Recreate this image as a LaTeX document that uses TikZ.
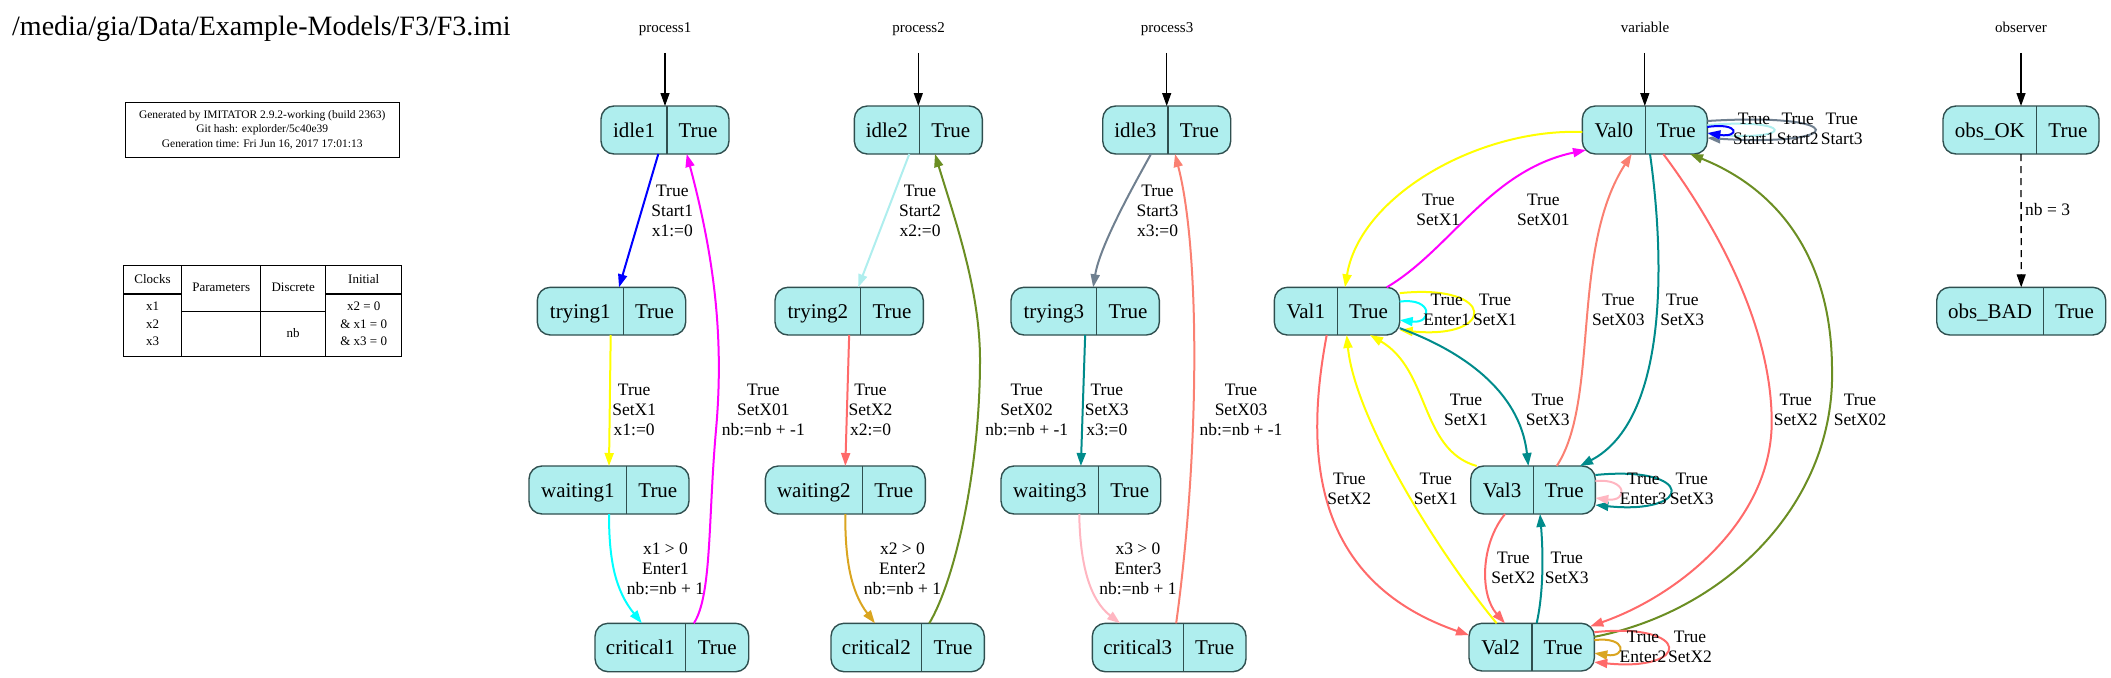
\documentclass[tikz,border=0pt]{standalone}
\usepackage{fontspec}
\setmainfont{Liberation Serif}
\usetikzlibrary{arrows.meta}
\definecolor{stfill}{HTML}{AFEEEE}
\definecolor{stroke}{HTML}{2F4F4F}
\definecolor{cblue}{HTML}{0000FF}
\definecolor{cyel}{HTML}{FFFF00}
\definecolor{ccyan}{HTML}{00FFFF}
\definecolor{cmag}{HTML}{FF00FF}
\definecolor{cpt}{HTML}{AFEEEE}
\definecolor{cired}{HTML}{FF6A6A}
\definecolor{cgold}{HTML}{DAA520}
\definecolor{colive}{HTML}{6B8E23}
\definecolor{cslate}{HTML}{708090}
\definecolor{cteal}{HTML}{008B8B}
\definecolor{cpink}{HTML}{FFB6C1}
\definecolor{csalmon}{HTML}{FA8072}
\tikzset{
  stbox/.style={draw=stroke, fill=stfill, rounded corners=13pt, line width=1.4pt, inner sep=0pt, outer sep=0pt},
  stline/.style={draw=stroke, line width=1.4pt},
  sttext/.style={font=\fontsize{21}{24}\selectfont, inner sep=0pt},
  elabel/.style={font=\fontsize{17.5}{20}\selectfont, align=center, inner sep=0pt},
  hdr/.style={font=\fontsize{15}{18}\selectfont, inner sep=0pt},
  tr/.style={line width=2pt, -{Triangle[length=13pt,width=9pt]}},
  initarr/.style={line width=1.3pt, -{Triangle[length=13pt,width=9pt]}},
  tbl/.style={draw=black, line width=1.2pt},
  tbltext/.style={font=\fontsize{13}{17.5}\selectfont, align=center, inner sep=0pt}
}
\newcommand\mkstate[7]{%
  \pgfmathsetmacro\stw{#3-#2}%
  \pgfmathsetmacro\sth{#5-#4}%
  \node[stbox, minimum width=\stw pt, minimum height=\sth pt] (#1) at ({(#2+#3)/2},{(#4+#5)/2}) {};
  \draw[stline] (#6,#4) -- (#6,#5);
  \node[sttext, anchor=base] (#1-n) at ({(#2+#6)/2},{(#4+#5)/2+7.3}) {#7};
  \node[sttext, anchor=base] (#1-t) at ({(#6+#3)/2},{(#4+#5)/2+7.3}) {True};
}
\begin{document}
\begin{tikzpicture}[x=1pt,y=-1pt]
\useasboundingbox (0,0) rectangle (2111,677);

% title
\node[font=\fontsize{28}{32}\selectfont, anchor=base west, inner sep=0pt] (title) at (12,36) {/media/gia/Data/Example-Models/F3/F3.imi};

% info box
\node[draw=black, line width=1.2pt, minimum width=274pt, minimum height=55pt, inner sep=0pt, align=center, font=\fontsize{11.5}{14.5}\selectfont] (info) at (262.2,129.8) {Generated by IMITATOR 2.9.2-working (build 2363)\\Git hash: explorder/5c40e39\\Generation time: Fri Jun 16, 2017 17:01:13};

% table
\node[tbl, minimum width=278.4pt, minimum height=91pt, inner sep=0pt] (tbox) at (262.5,311.2) {};
\draw[tbl] (181.7,265.7) -- (181.7,356.7);
\draw[tbl] (260.7,265.7) -- (260.7,356.7);
\draw[tbl] (325.7,265.7) -- (325.7,356.7);
\draw[tbl] (123.3,294) -- (181.7,294);
\draw[tbl] (181.7,311.7) -- (325.7,311.7);
\draw[tbl] (325.7,294) -- (401.7,294);
\node[tbltext] (tclocks) at (152.5,279) {Clocks};
\node[tbltext] (tparams) at (221.2,287.7) {Parameters};
\node[tbltext] (tdisc) at (293.2,287.7) {Discrete};
\node[tbltext] (tinit) at (363.7,279) {Initial};
\node[tbltext] (tclockv) at (152.5,324.2) {x1\\x2\\x3};
\node[tbltext] (tdiscv) at (293.2,333.3) {nb};
\node[tbltext] (tinitv) at (363.7,324.2) {x2 = 0\\\& x1 = 0\\\& x3 = 0};

% states
\mkstate{idle1}{601}{729}{106}{154}{667}{idle1}
\mkstate{trying1}{537.3}{685.7}{287.3}{335}{623.3}{trying1}
\mkstate{waiting1}{529}{689}{466}{514}{626.7}{waiting1}
\mkstate{critical1}{595}{748.7}{623.3}{671.7}{685.7}{critical1}
\mkstate{idle2}{854.3}{982.3}{106}{154}{919.3}{idle2}
\mkstate{trying2}{775}{923.3}{287.3}{335}{860.7}{trying2}
\mkstate{waiting2}{765.3}{925.3}{466}{514}{862.3}{waiting2}
\mkstate{critical2}{831}{984.3}{623.3}{671.7}{921.7}{critical2}
\mkstate{idle3}{1102.7}{1230.7}{106}{154}{1168}{idle3}
\mkstate{trying3}{1011}{1159.3}{287.3}{335}{1096.7}{trying3}
\mkstate{waiting3}{1001}{1160.7}{466}{514}{1098.7}{waiting3}
\mkstate{critical3}{1092.3}{1246}{623.3}{671.7}{1183.3}{critical3}
\mkstate{Val0}{1582.3}{1707.3}{106}{154}{1645.3}{Val0}
\mkstate{Val1}{1274.3}{1399.7}{287.3}{335}{1337.3}{Val1}
\mkstate{Val3}{1470.7}{1595.3}{466}{514}{1533.3}{Val3}
\mkstate{Val2}{1469}{1594.3}{623.3}{671}{1532}{Val2}
\mkstate{obsOK}{1943}{2099}{106}{154}{2036.7}{obs\_OK}
\mkstate{obsBAD}{1936.7}{2105.7}{287.3}{335}{2043.3}{obs\_BAD}

% headers and initial arrows
\node[hdr, anchor=base] (h1) at (665,33) {process1};
\node[hdr, anchor=base] (h2) at (918.5,33) {process2};
\node[hdr, anchor=base] (h3) at (1167,33) {process3};
\node[hdr, anchor=base] (h4) at (1645,33) {variable};
\node[hdr, anchor=base] (h5) at (2021,33) {observer};
\coordinate (s1) at (665,53);
\coordinate (s2) at (918.3,53);
\coordinate (s3) at (1166.7,53);
\coordinate (s4) at (1644.8,53);
\coordinate (s5) at (2021,53);
\draw[initarr] (s1) -- (idle1.north);
\draw[initarr] (s2) -- (idle2.north);
\draw[initarr] (s3) -- (idle3.north);
\draw[initarr] (s4) -- (Val0.north);
\draw[initarr] (s5) -- (obsOK.north);

% process1
\draw[tr, cblue] ([shift={(-6.7,0)}]idle1.south) -- ([shift={(7.5,0)}]trying1.north);
\draw[tr, cyel] ([shift={(-0.8,0)}]trying1.south) -- (waiting1.north);
\draw[tr, ccyan] (waiting1.south) .. controls (609,560) and (615,590) .. ([shift={(-30,0)}]critical1.north);
\draw[tr, cmag] ([shift={(22,0)}]critical1.north) .. controls (712,595) and (708,520) .. (716,430) .. controls (724,340) and (715,260) .. ([shift={(21.7,0)}]idle1.south);
\node[elabel] (l1a) at (672.3,210.7) {True\\Start1\\x1:=0};
\node[elabel] (l1b) at (634.2,410.3) {True\\SetX1\\x1:=0};
\node[elabel] (l1c) at (665.5,568.3) {x1 {\textgreater} 0\\Enter1\\nb:=nb + 1};
\node[elabel] (l1d) at (763.3,410.3) {True\\SetX01\\nb:=nb + -1};

% process2
\draw[tr, cpt] ([shift={(-9,0)}]idle2.south) -- ([shift={(9,0)}]trying2.north);
\draw[tr, cired] (trying2.south) -- (waiting2.north);
\draw[tr, cgold] (waiting2.south) .. controls (845,560) and (851,592) .. ([shift={(-32.7,0)}]critical2.north);
\draw[tr, colive] ([shift={(21.6,0)}]critical2.north) .. controls (955,580) and (980,470) .. (980,360) .. controls (980,290) and (955,220) .. ([shift={(16.7,0)}]idle2.south);
\node[elabel] (l2a) at (920,210.7) {True\\Start2\\x2:=0};
\node[elabel] (l2b) at (870.5,410.3) {True\\SetX2\\x2:=0};
\node[elabel] (l2c) at (902.5,568.3) {x2 {\textgreater} 0\\Enter2\\nb:=nb + 1};
\node[elabel] (l2d) at (1026.7,410.3) {True\\SetX02\\nb:=nb + -1};

% process3
\draw[tr, cslate] ([shift={(-15.7,0)}]idle3.south) .. controls (1135,183) and (1100,245) .. ([shift={(8,0)}]trying3.north);
\draw[tr, cteal] (trying3.south) -- (waiting3.north);
\draw[tr, cpink] ([shift={(-1.6,0)}]waiting3.south) .. controls (1080,565) and (1090,600) .. ([shift={(-49,0)}]critical3.north);
\draw[tr, csalmon] ([shift={(7,0)}]critical3.north) .. controls (1200,450) and (1200,250) .. ([shift={(8.3,0)}]idle3.south);
\node[elabel] (l3a) at (1157.5,210.7) {True\\Start3\\x3:=0};
\node[elabel] (l3b) at (1106.8,410.3) {True\\SetX3\\x3:=0};
\node[elabel] (l3c) at (1138,568.3) {x3 {\textgreater} 0\\Enter3\\nb:=nb + 1};
\node[elabel] (l3d) at (1241,410.3) {True\\SetX03\\nb:=nb + -1};

% variable
\draw[tr, cyel] ([shift={(0,2)}]Val0.west) .. controls (1480,128) and (1360,195) .. ([shift={(8,0)}]Val1.north);
\draw[tr, cmag] ([shift={(49.7,0)}]Val1.north) .. controls (1450,250) and (1490,170) .. ([shift={(-58.8,20)}]Val0.center);
\draw[tr, cyel] ([shift={(0,-18)}]Val1.east) .. controls (1497,283) and (1497,340) .. ([shift={(0,19)}]Val1.east);
\draw[tr, ccyan] ([shift={(0,-9.5)}]Val1.east) .. controls (1433,297) and (1433,324) .. ([shift={(0,9)}]Val1.east);
\draw[tr, cteal] ([shift={(5.2,0)}]Val0.south) .. controls (1665,260) and (1668,420) .. ([shift={(47,0)}]Val3.north);
\draw[tr, csalmon] ([shift={(23.7,0)}]Val3.north) .. controls (1600,400) and (1570,250) .. ([shift={(-13.1,0)}]Val0.south);
\draw[tr, cired] ([shift={(18.5,0)}]Val0.south) .. controls (1720,230) and (1772,330) .. (1771.7,423) .. controls (1771,520) and (1680,595) .. ([shift={(-4,3)}]Val2.north east);
\draw[tr, colive] ([shift={(0,-10.3)}]Val2.east) .. controls (1730,610) and (1835,500) .. (1832,370) .. controls (1832,260) and (1780,190) .. ([shift={(45.2,0)}]Val0.south);
\draw[tr, cslate] ([shift={(0,-9)}]Val0.east) .. controls (1850,112) and (1850,147) .. ([shift={(0,8)}]Val0.east);
\draw[tr, cpt] ([shift={(0,-5)}]Val0.east) .. controls (1795,118) and (1795,141) .. ([shift={(0,4)}]Val0.east);
\draw[tr, cblue] ([shift={(0,-3)}]Val0.east) .. controls (1740,122) and (1740,138) .. ([shift={(0,3)}]Val0.east);
\draw[tr, cteal] ([shift={(0,17)}]Val1.east) .. controls (1460,350) and (1520,390) .. ([shift={(-4.7,0)}]Val3.north);
\draw[tr, cyel] ([shift={(-56.3,0)}]Val3.north) .. controls (1420,450) and (1430,370) .. ([shift={(33,0)}]Val1.south);
\draw[tr, cyel] ([shift={(-35,0)}]Val2.north) .. controls (1440,555) and (1355,420) .. ([shift={(9.7,0)}]Val1.south);
\draw[tr, cired] ([shift={(-10.3,0)}]Val1.south) .. controls (1305,450) and (1310,580) .. ([shift={(0,-12)}]Val2.west);
\draw[tr, cteal] ([shift={(0,-15)}]Val3.east) .. controls (1695,465) and (1695,515) .. ([shift={(0,15)}]Val3.east);
\draw[tr, cpink] ([shift={(0,-9)}]Val3.east) .. controls (1628,478) and (1628,502) .. ([shift={(0,8)}]Val3.east);
\draw[tr, cired] ([shift={(-28,0)}]Val3.south) .. controls (1480,545) and (1480,595) .. ([shift={(-26.7,0)}]Val2.north);
\draw[tr, cteal] ([shift={(5,0)}]Val2.north) .. controls (1544,590) and (1543,550) .. ([shift={(7,0)}]Val3.south);
\draw[tr, cired] ([shift={(0,-15)}]Val2.east) .. controls (1692,622) and (1692,672) .. ([shift={(0,15)}]Val2.east);
\draw[tr, cgold] ([shift={(0,-7)}]Val2.east) .. controls (1627,636) and (1627,658) .. ([shift={(0,6)}]Val2.east);

\node[elabel] (lv1) at (1438.3,210) {True\\SetX1};
\node[elabel] (lv2) at (1543.3,210) {True\\SetX01};
\node[elabel] (lv3) at (1446.7,310) {True\\Enter1};
\node[elabel] (lv4) at (1495,310) {True\\SetX1};
\node[elabel] (lv5) at (1618.3,310) {True\\SetX03};
\node[elabel] (lv6) at (1682.3,310) {True\\SetX3};
\node[elabel] (lv7) at (1754,129.3) {True\\Start1};
\node[elabel] (lv8) at (1797.7,129.3) {True\\Start2};
\node[elabel] (lv9) at (1841.7,129.3) {True\\Start3};
\node[elabel] (lv10) at (1795.7,410) {True\\SetX2};
\node[elabel] (lv11) at (1860,410) {True\\SetX02};
\node[elabel] (lv12) at (1547.7,410) {True\\SetX3};
\node[elabel] (lv13) at (1466,410) {True\\SetX1};
\node[elabel] (lv14) at (1435.7,489.3) {True\\SetX1};
\node[elabel] (lv15) at (1349.3,489.3) {True\\SetX2};
\node[elabel] (lv16) at (1643.3,489.3) {True\\Enter3};
\node[elabel] (lv17) at (1691.7,489.3) {True\\SetX3};
\node[elabel] (lv18) at (1513.3,568.3) {True\\SetX2};
\node[elabel] (lv19) at (1566.7,568.3) {True\\SetX3};
\node[elabel] (lv20) at (1643,646.7) {True\\Enter2};
\node[elabel] (lv21) at (1690,646.7) {True\\SetX2};

% observer
\draw[initarr, dash pattern=on 7pt off 5pt] (obsOK.south) -- (obsBAD.north);
\node[elabel, anchor=west] (lo) at (2025,210) {nb = 3};
\end{tikzpicture}
\end{document}
